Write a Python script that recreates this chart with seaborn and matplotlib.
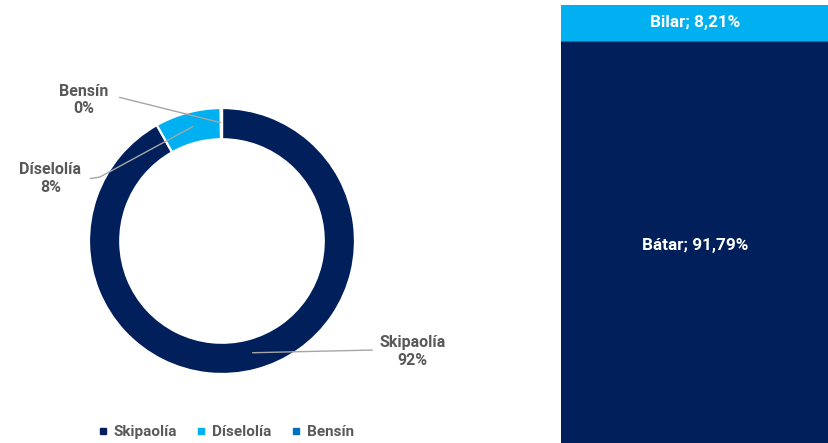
import matplotlib
matplotlib.use("Agg")
import matplotlib.pyplot as plt
import seaborn as sns
import pandas as pd

# ---- data ----
fuel_labels = ["Skipaolía", "Díselolía", "Bensín"]
fuel_values = [91.85, 8.0, 0.15]
fuel_pct_text = ["92%", "8%", "0%"]

bar_labels = ["Bátar", "Bilar"]
bar_values = [91.79, 8.21]
bar_text = ["Bátar; 91,79%", "Bilar; 8,21%"]

dark = "#001F5B"
light = "#00B0F0"
mid = "#0070C0"
grey = "#595959"
fuel_colors = [dark, light, mid]

sns.set_theme(style="white")
plt.rcParams["font.family"] = ["Roboto", "DejaVu Sans"]

W, H = 829, 443
fig = plt.figure(figsize=(W / 100, H / 100), dpi=100)

# ---- donut ----
cx, cy, R = 222, 241, 133
ax = fig.add_axes([(cx - R) / W, (H - cy - R) / H, 2 * R / W, 2 * R / H])
ax.pie(fuel_values, colors=fuel_colors, startangle=90, counterclock=False,
       radius=1.0, wedgeprops=dict(width=0.235, edgecolor="white", linewidth=1.6))
ax.set_xlim(-1, 1)
ax.set_ylim(-1, 1)
ax.set_aspect("equal")
ax.axis("off")

lab_kw = dict(color=grey, fontsize=11.5, fontweight="bold", ha="center", va="center",
              linespacing=1.2, clip_on=False)
line_kw = dict(color="#A6A6A6", lw=1.0, clip_on=False)

# Skipaolía
ax.plot([0.23, 1.13], [-0.84, -0.82], **line_kw)
ax.text(1.43, -0.83, f"{fuel_labels[0]}\n{fuel_pct_text[0]}", **lab_kw)
# Díselolía
ax.plot([-0.99, -0.92, -0.22], [0.47, 0.48, 0.86], **line_kw)
ax.text(-1.29, 0.47, f"{fuel_labels[1]}\n{fuel_pct_text[1]}", **lab_kw)
# Bensín
ax.plot([-0.77, -0.01], [1.08, 0.89], **line_kw)
ax.text(-1.04, 1.06, f"{fuel_labels[2]}\n{fuel_pct_text[2]}", **lab_kw)

# legend
handles = [plt.Line2D([], [], marker="s", linestyle="", markersize=4.5,
                      markerfacecolor=c, markeredgecolor=c) for c in fuel_colors]
fig.legend(handles, fuel_labels, loc="center", bbox_to_anchor=(226 / W, 1 - 432 / H),
           ncol=3, frameon=False, handlelength=0.6, handletextpad=0.4, columnspacing=1.3,
           prop=dict(family=["Roboto", "DejaVu Sans"], weight="bold", size=11),
           labelcolor=grey)

# ---- stacked bar ----
bx0, bx1, btop = 561, 829, 5
ax2 = fig.add_axes([bx0 / W, 0, (bx1 - bx0) / W, (H - btop) / H])
total = sum(bar_values)
df_total = pd.DataFrame({"cat": ["a"], "val": [total]})
df_low = pd.DataFrame({"cat": ["a"], "val": [bar_values[0]]})
sns.barplot(data=df_total, x="cat", y="val", color=light, width=1.0, ax=ax2,
            saturation=1, edgecolor="none")
sns.barplot(data=df_low, x="cat", y="val", color=dark, width=1.0, ax=ax2,
            saturation=1, edgecolor="none")
ax2.axhline(bar_values[0], color="#4d8fc9", lw=0.8, alpha=0.6)
ax2.set_xlim(-0.5, 0.5)
ax2.set_ylim(0, total)
ax2.axis("off")
txt_kw = dict(color="white", fontsize=12.3, fontweight="bold", ha="center", va="center")
ax2.text(0, 45.0, bar_text[0], **txt_kw)
ax2.text(0, bar_values[0] + bar_values[1] / 2, bar_text[1], **txt_kw)

fig.savefig("out.png", dpi=100)
